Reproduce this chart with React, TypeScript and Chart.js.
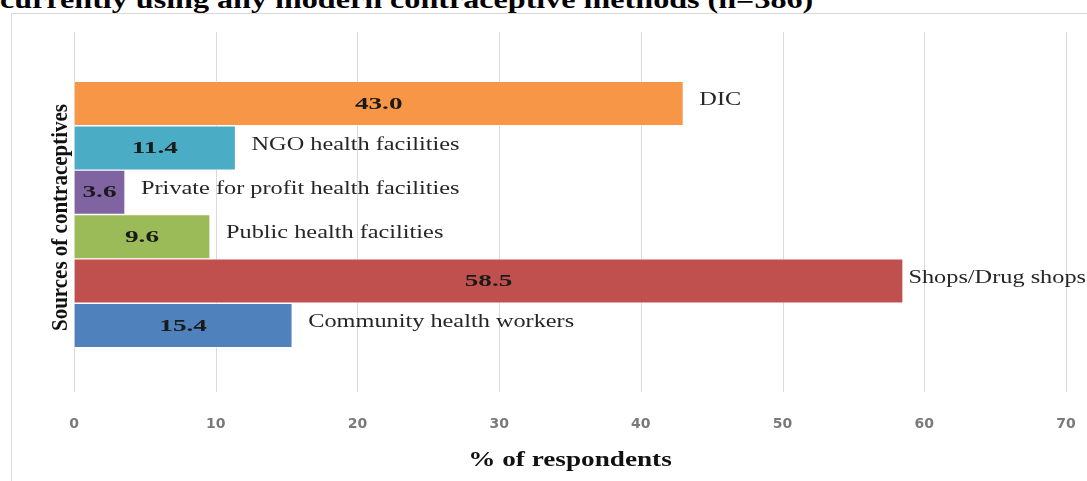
import React, { useEffect, useRef } from "react";
import { Chart, registerables } from "chart.js";

Chart.register(...registerables);

const categories = [
  "DIC",
  "NGO health facilities",
  "Private for profit health facilities",
  "Public health facilities",
  "Shops/Drug shops",
  "Community health workers",
];
const values = [43.0, 11.4, 3.6, 9.6, 58.5, 15.4];
const barColors = ["#F79646", "#4BACC6", "#8064A2", "#9BBB59", "#C0504D", "#4F81BD"];
const xTicks = [0, 10, 20, 30, 40, 50, 60, 70];
const titleText = "currently using any modern contraceptive methods (n=386)";
const xTitle = "% of respondents";
const yTitle = "Sources of contraceptives";

const SERIF = "'Liberation Serif', 'Times New Roman', serif";
const CAT_STRETCH = 1.35;
const VAL_STRETCH = 1.7;

function stretchedText(
  ctx: CanvasRenderingContext2D,
  text: string,
  x: number,
  y: number,
  align: "left" | "center",
  sx: number
) {
  ctx.save();
  ctx.translate(x, y);
  ctx.scale(sx, 1);
  ctx.textAlign = align;
  ctx.textBaseline = "middle";
  ctx.fillText(text, 0, 0);
  ctx.restore();
}

const gridPlugin = {
  id: "customGrid",
  beforeDatasetsDraw(chart: any) {
    const { ctx, chartArea, scales } = chart;
    const x = scales.x;
    ctx.save();
    ctx.strokeStyle = "#d9d9d9";
    ctx.lineWidth = 1;
    xTicks.forEach((t) => {
      const px = Math.round(x.getPixelForValue(t)) + 0.5;
      ctx.beginPath();
      ctx.moveTo(px, 32);
      ctx.lineTo(px, chartArea.bottom);
      ctx.stroke();
    });
    ctx.restore();
  },
};

const labelPlugin = {
  id: "barLabels",
  afterDatasetsDraw(chart: any) {
    const { ctx, chartArea } = chart;
    const meta = chart.getDatasetMeta(0);
    const W = chart.width;
    meta.data.forEach((bar: any, i: number) => {
      const v = chart.data.datasets[0].data[i];
      if (v === null || v === undefined) return;
      const cat = chart.data.labels[i] as string;
      const left = bar.base;
      const right = bar.x;
      const cy = bar.y;
      ctx.save();
      ctx.fillStyle = "#1a1a1a";
      ctx.font = `bold 16px ${SERIF}`;
      stretchedText(ctx, Number(v).toFixed(1), (left + right) / 2, cy + 1, "center", VAL_STRETCH);
      ctx.fillStyle = "#262626";
      ctx.font = `18px ${SERIF}`;
      const tw = ctx.measureText(cat).width * CAT_STRETCH;
      let lx = right + 16;
      if (lx + tw > W - 1) lx = Math.max(right, W - 1 - tw);
      stretchedText(ctx, cat, lx, cy - 3, "left", CAT_STRETCH);
      ctx.restore();
    });
    // axis titles
    ctx.save();
    ctx.fillStyle = "#111";
    ctx.font = `bold 20px ${SERIF}`;
    stretchedText(ctx, xTitle, (chartArea.left + chartArea.right) / 2, 461, "center", 1.36);
    ctx.translate(61, (chartArea.top + chartArea.bottom) / 2 + 3);
    ctx.rotate(-Math.PI / 2);
    ctx.scale(1, 1.1);
    ctx.font = `bold 21px ${SERIF}`;
    ctx.textAlign = "center";
    ctx.textBaseline = "middle";
    ctx.fillText(yTitle, 0, 0);
    ctx.restore();
  },
};

export default function App() {
  const ref = useRef<HTMLCanvasElement | null>(null);
  useEffect(() => {
    document.body.style.margin = "0";
    const canvas = ref.current!;
    const labels = ["", ...categories, ""];
    const data = [null, ...values, null];
    const colors = ["#fff", ...barColors, "#fff"];
    const chart = new Chart(canvas, {
      type: "bar",
      data: {
        labels,
        datasets: [
          {
            data: data as any,
            backgroundColor: colors,
            borderColor: "rgba(255,255,255,0.5)",
            borderWidth: 1,
            borderSkipped: false,
            barPercentage: 1,
            categoryPercentage: 1,
          },
        ],
      },
      options: {
        indexAxis: "y",
        animation: false,
        responsive: false,
        devicePixelRatio: 1,
        layout: { padding: { left: 74, right: 21, top: 37, bottom: 9 } },
        plugins: { legend: { display: false }, tooltip: { enabled: false } },
        scales: {
          x: {
            min: 0,
            max: 70,
            afterBuildTicks: (axis: any) => {
              axis.ticks = xTicks.map((v) => ({ value: v }));
            },
            afterFit: (axis: any) => {
              axis.height = 80;
              axis.paddingLeft = 0;
              axis.paddingRight = 0;
            },
            grid: { display: false, drawTicks: false, tickLength: 0 },
            border: { display: false },
            ticks: {
              padding: 24,
              color: "#7a7a7a",
              font: { family: "'DejaVu Sans', sans-serif", size: 14, weight: "bold" },
            },
          },
          y: {
            afterFit: (axis: any) => {
              axis.width = 0;
            },
            grid: { display: false, drawTicks: false, tickLength: 0 },
            border: { display: false },
            ticks: { display: false },
          },
        },
      },
      plugins: [gridPlugin, labelPlugin],
    });
    return () => chart.destroy();
  }, []);

  return (
    <div style={{ position: "relative", width: 1087, height: 481, overflow: "hidden", background: "#fff" }}>
      <div
        style={{
          position: "absolute",
          left: 11,
          top: 13,
          width: 1100,
          height: 500,
          border: "1px solid #d9d9d9",
          boxSizing: "border-box",
        }}
      />
      <div
        style={{
          position: "absolute",
          left: 0,
          top: -13,
          whiteSpace: "nowrap",
          fontFamily: SERIF,
          fontWeight: "bold",
          fontSize: 26,
          lineHeight: "26px",
          color: "#000",
          transform: "scaleX(1.235)",
          transformOrigin: "left top",
        }}
      >
        {titleText}
      </div>
      <canvas ref={ref} width={1087} height={481} style={{ position: "absolute", left: 0, top: 0 }} />
    </div>
  );
}
